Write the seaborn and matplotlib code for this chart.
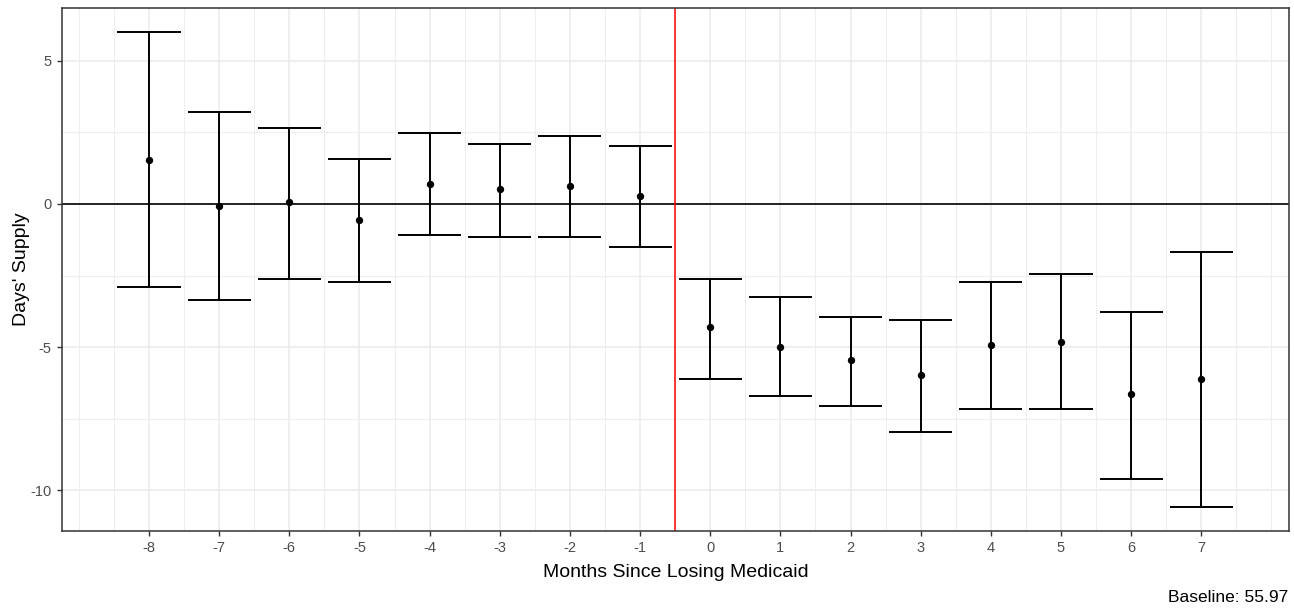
import numpy as np
import pandas as pd
import matplotlib
matplotlib.use("Agg")
import matplotlib.pyplot as plt
from matplotlib.ticker import MultipleLocator, FixedLocator
import seaborn as sns

# Event-study estimates: months relative to losing Medicaid
months = [-8, -7, -6, -5, -4, -3, -2, -1, 0, 1, 2, 3, 4, 5, 6, 7]
estimate = [1.54, -0.06, 0.06, -0.56, 0.69, 0.52, 0.63, 0.29,
            -4.31, -4.99, -5.44, -5.96, -4.94, -4.83, -6.63, -6.13]
ci_low = [-2.90, -3.37, -2.63, -2.74, -1.10, -1.15, -1.15, -1.50,
          -6.10, -6.71, -7.06, -7.97, -7.18, -7.18, -9.62, -10.58]
ci_high = [6.00, 3.22, 2.66, 1.57, 2.48, 2.09, 2.38, 2.03,
           -2.63, -3.25, -3.94, -4.04, -2.74, -2.45, -3.76, -1.67]
baseline = 55.97

df = pd.DataFrame({"month": months, "est": estimate, "lo": ci_low, "hi": ci_high})

sns.set_theme(style="white")
plt.rcParams["font.family"] = ["Liberation Sans", "DejaVu Sans"]
plt.rcParams["axes.unicode_minus"] = False

fig = plt.figure(figsize=(12.94, 6.09), dpi=100)
ax = fig.add_axes([62 / 1294, 1 - 531 / 609, (1289 - 62) / 1294, (531 - 8) / 609])

# grid: major at labelled months / every 5 days, minor halfway between
ax.xaxis.set_major_locator(FixedLocator(months))
ax.xaxis.set_minor_locator(FixedLocator([-9.0] + list(np.arange(-8.5, 8.5, 1.0)) + [8.0]))
ax.yaxis.set_major_locator(MultipleLocator(5))
ax.yaxis.set_minor_locator(MultipleLocator(2.5))
ax.grid(which="major", color="#EBEBEB", lw=1.1, zorder=0)
ax.grid(which="minor", color="#EEEEEE", lw=0.8, zorder=0)
ax.set_axisbelow(True)

# reference lines
ax.axhline(0, color="black", lw=1.2, zorder=2)
ax.axvline(-0.5, color="#FF0000", lw=1.1, zorder=2)

# confidence intervals with caps
half = 0.45
ax.vlines(df["month"], df["lo"], df["hi"], color="black", lw=1.4, zorder=3)
ax.hlines(df["lo"], df["month"] - half, df["month"] + half, color="black", lw=1.4, zorder=3)
ax.hlines(df["hi"], df["month"] - half, df["month"] + half, color="black", lw=1.4, zorder=3)

# point estimates
sns.scatterplot(data=df, x="month", y="est", ax=ax, color="black", s=28,
                edgecolor="black", linewidth=0, zorder=4, legend=False)

ax.set_xlim(-9.24, 8.25)
ax.set_ylim(-11.43, 6.85)

for s in ax.spines.values():
    s.set_color("#333333")
    s.set_linewidth(1.1)

ax.tick_params(axis="both", which="major", length=3.5, width=1.0, color="#333333",
               labelcolor="#4D4D4D", labelsize=10.5, pad=4, bottom=True, left=True)
ax.tick_params(axis="both", which="minor", length=0)

ax.set_xlabel("Months Since Losing Medicaid", fontsize=14, color="black", labelpad=6)
ax.set_ylabel("Days' Supply", fontsize=14, color="black", labelpad=0)

fig.text(1288 / 1294, 1 - 597 / 609, f"Baseline: {baseline:.2f}", ha="right", va="center",
         fontsize=12.5, color="black")

fig.savefig("out.png", dpi=100)
